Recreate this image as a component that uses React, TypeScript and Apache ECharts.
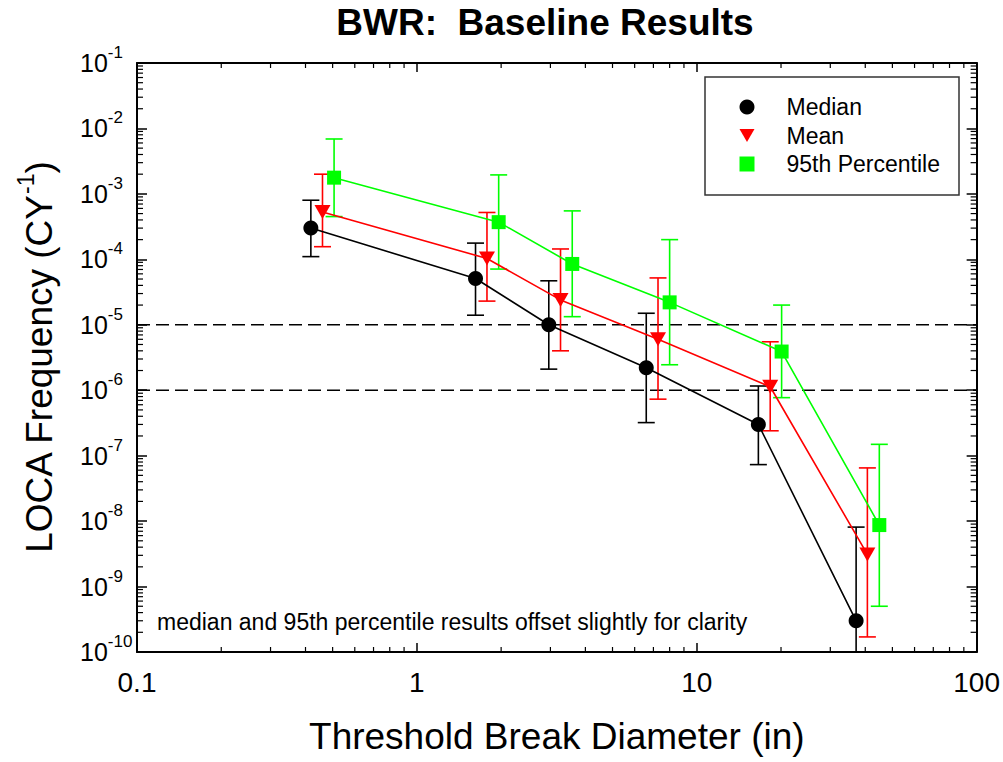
import React, { useEffect, useRef } from "react";
import * as echarts from "echarts";

const FONT = "'Liberation Sans', Arial, Helvetica, sans-serif";

// ---- data ----
const medianX = [0.418, 1.62, 2.96, 6.6, 16.6, 37.1];
const medianY = [3.0e-4, 5.1e-5, 1.0e-5, 2.2e-6, 3.0e-7, 3.0e-10];
const medianLo = [1.1e-4, 1.4e-5, 2.1e-6, 3.2e-7, 7.3e-8, 1e-11];
const medianHi = [8.0e-4, 1.77e-4, 4.7e-5, 1.5e-5, 1.16e-6, 8.1e-9];

const meanX = [0.46, 1.78, 3.26, 7.27, 18.3, 40.7];
const meanY = [5.3e-4, 1.03e-4, 2.4e-5, 6.0e-6, 1.13e-6, 3.1e-9];
const meanLo = [1.56e-4, 2.3e-5, 4.0e-6, 7.3e-7, 2.4e-7, 1.7e-10];
const meanHi = [2.0e-3, 5.2e-4, 1.44e-4, 5.2e-5, 5.5e-6, 6.5e-8];

const p95X = [0.506, 1.96, 3.59, 8.0, 20.1, 44.9];
const p95Y = [1.77e-3, 3.7e-4, 8.5e-5, 2.2e-5, 3.9e-6, 8.7e-9];
const p95Lo = [4.5e-4, 7.1e-5, 1.33e-5, 2.45e-6, 7.7e-7, 5.0e-10];
const p95Hi = [6.9e-3, 1.95e-3, 5.5e-4, 2.0e-4, 2.0e-5, 1.49e-7];

const refLines = [1e-5, 1e-6];

const xTickValues = [0.1, 1, 10, 100];
const xTickLabels = ["0.1", "1", "10", "100"];
const yExponents = [-1, -2, -3, -4, -5, -6, -7, -8, -9, -10];
const xDecades = [0.1, 1, 10];
const yDecades = [1e-10, 1e-9, 1e-8, 1e-7, 1e-6, 1e-5, 1e-4, 1e-3, 1e-2];
const minorMultipliers = [2, 3, 4, 5, 6, 7, 8, 9];

const seriesNames = ["Median", "Mean", "95th Percentile"];
const seriesColors = ["#000000", "#ff0000", "#00ff00"];
const TRI_DOWN = "path://M0,0L16,0L8,14Z";

const X_MIN = 0.1, X_MAX = 100, Y_MIN = 1e-10, Y_MAX = 1e-1;

function zip3(x: number[], a: number[], b: number[]) {
  return x.map((v, i) => [v, a[i], b[i]]);
}
function zip2(x: number[], a: number[]) {
  return x.map((v, i) => [v, a[i]]);
}

function errorSeries(name: string, color: string, data: number[][]) {
  return {
    type: "custom",
    name: name + " err",
    coordinateSystem: "cartesian2d",
    clip: true,
    z: 2,
    silent: true,
    encode: { x: 0, y: [1, 2] },
    data,
    renderItem: (params: any, api: any) => {
      const x = api.value(0);
      const lo = api.value(1);
      const hi = api.value(2);
      const pLo = api.coord([x, lo]);
      const pHi = api.coord([x, hi]);
      const hw = 8.5;
      const style = { stroke: color, lineWidth: 1.6 };
      return {
        type: "group",
        children: [
          { type: "line", shape: { x1: pLo[0], y1: pLo[1], x2: pHi[0], y2: pHi[1] }, style },
          { type: "line", shape: { x1: pHi[0] - hw, y1: pHi[1], x2: pHi[0] + hw, y2: pHi[1] }, style },
          { type: "line", shape: { x1: pLo[0] - hw, y1: pLo[1], x2: pLo[0] + hw, y2: pLo[1] }, style },
        ],
      };
    },
  };
}

export default function App() {
  const ref = useRef<HTMLDivElement>(null);

  useEffect(() => {
    if (!ref.current) return;
    const chart = echarts.init(ref.current, undefined, { renderer: "svg" });

    const xMinor: number[][] = [];
    xDecades.forEach((d) => minorMultipliers.forEach((m) => xMinor.push([d * m, Y_MIN])));
    const yMinor: number[][] = [];
    yDecades.forEach((d) => minorMultipliers.forEach((m) => yMinor.push([X_MIN, d * m])));

    const axisLineStyle = { color: "#000", width: 2 };

    const refLineSeries = refLines.map((y, i) => ({
      type: "line",
      name: "ref" + i,
      data: [
        [X_MIN, y],
        [X_MAX, y],
      ],
      symbol: "none",
      silent: true,
      z: 1,
      lineStyle: { color: "#000", width: 1.4, type: [13, 6] },
    }));

    const option: any = {
      animation: false,
      backgroundColor: "#ffffff",
      title: {
        text: "BWR:  Baseline Results",
        left: 545,
        textAlign: "center",
        top: 4,
        padding: 0,
        textStyle: { fontFamily: FONT, fontSize: 37, fontWeight: "bold", color: "#000" },
      },
      grid: { left: 137, top: 63, width: 840, height: 589, containLabel: false },
      legend: {
        orient: "vertical",
        left: 739.5,
        top: 95.5,
        padding: 0,
        itemWidth: 15,
        itemHeight: 15,
        itemGap: 5.5,
        selectedMode: false,
        data: [
          { name: seriesNames[0], icon: "circle" },
          { name: seriesNames[1], icon: TRI_DOWN },
          { name: seriesNames[2], icon: "rect" },
        ],
        formatter: (n: string) => `{t|${n}}`,
        textStyle: {
          fontFamily: FONT,
          fontSize: 23,
          color: "#000",
          rich: { t: { fontFamily: FONT, fontSize: 23, color: "#000", padding: [0, 0, 0, 27], lineHeight: 23 } },
        },
      },
      graphic: [
        {
          type: "rect",
          shape: { x: 705, y: 77, width: 254, height: 118 },
          style: { fill: "none", stroke: "#333", lineWidth: 1.5 },
          z: 10,
        },
        {
          type: "text",
          x: 157,
          y: 622,
          style: {
            text: "median and 95th percentile results offset slightly for clarity",
            font: `23px ${FONT}`,
            fill: "#000",
            verticalAlign: "middle",
            align: "left",
          },
          z: 10,
        },
      ],
      xAxis: [
        {
          type: "log",
          logBase: 10,
          min: X_MIN,
          max: X_MAX,
          splitNumber: 3,
          position: "bottom",
          name: "Threshold Break Diameter (in)",
          nameLocation: "middle",
          nameGap: 66,
          nameTextStyle: { fontFamily: FONT, fontSize: 37, color: "#000" },
          axisLine: { show: true, lineStyle: axisLineStyle },
          axisTick: { show: true, inside: true, length: 9, lineStyle: { color: "#000", width: 1.5 } },
          axisLabel: {
            fontFamily: FONT,
            fontSize: 28,
            color: "#000",
            margin: 16,
            formatter: (v: number) => {
              const i = xTickValues.findIndex((t) => Math.abs(Math.log10(t) - Math.log10(v)) < 1e-6);
              return i >= 0 ? xTickLabels[i] : "";
            },
          },
          splitLine: { show: false },
        },
        {
          type: "log",
          logBase: 10,
          min: X_MIN,
          max: X_MAX,
          splitNumber: 3,
          position: "top",
          axisLine: { show: true, lineStyle: axisLineStyle },
          axisTick: { show: true, inside: true, length: 9, lineStyle: { color: "#000", width: 1.5 } },
          axisLabel: { show: false },
          splitLine: { show: false },
        },
      ],
      yAxis: [
        {
          type: "log",
          logBase: 10,
          min: Y_MIN,
          max: Y_MAX,
          splitNumber: 9,
          position: "left",
          name: "{a|LOCA Frequency (CY}{s|-1}{a|)}",
          nameLocation: "middle",
          nameGap: 73,
          nameRotate: 90,
          nameTextStyle: {
            fontFamily: FONT,
            fontSize: 37,
            color: "#000",
            rich: {
              a: { fontFamily: FONT, fontSize: 37, color: "#000", lineHeight: 50, verticalAlign: "middle" },
              s: { fontFamily: FONT, fontSize: 23, color: "#000", lineHeight: 23, verticalAlign: "top" },
            },
          },
          axisLine: { show: true, lineStyle: axisLineStyle },
          axisTick: { show: true, inside: true, length: 10, lineStyle: { color: "#000", width: 1.5 } },
          axisLabel: {
            align: "left",
            margin: 57,
            formatter: (v: number) => {
              const e = Math.round(Math.log10(v));
              const idx = yExponents.indexOf(e);
              return idx >= 0 ? `{b|10}{s|${yExponents[idx]}}` : "";
            },
            rich: {
              b: { fontFamily: FONT, fontSize: 25, color: "#000", lineHeight: 38, verticalAlign: "middle" },
              s: { fontFamily: FONT, fontSize: 17, color: "#000", lineHeight: 17, verticalAlign: "top" },
            },
          },
          splitLine: { show: false },
        },
        {
          type: "log",
          logBase: 10,
          min: Y_MIN,
          max: Y_MAX,
          splitNumber: 9,
          position: "right",
          axisLine: { show: true, lineStyle: axisLineStyle },
          axisTick: { show: true, inside: true, length: 10, lineStyle: { color: "#000", width: 1.5 } },
          axisLabel: { show: false },
          splitLine: { show: false },
        },
      ],
      series: [
        {
          type: "custom",
          name: "xminor",
          coordinateSystem: "cartesian2d",
          silent: true,
          z: 1,
          data: xMinor,
          renderItem: (params: any, api: any) => {
            const v = api.value(0);
            const b = api.coord([v, Y_MIN]);
            const t = api.coord([v, Y_MAX]);
            const style = { stroke: "#000", lineWidth: 1.2 };
            return {
              type: "group",
              children: [
                { type: "line", shape: { x1: b[0], y1: b[1], x2: b[0], y2: b[1] - 5 }, style },
                { type: "line", shape: { x1: t[0], y1: t[1], x2: t[0], y2: t[1] + 5 }, style },
              ],
            };
          },
        },
        {
          type: "custom",
          name: "yminor",
          coordinateSystem: "cartesian2d",
          silent: true,
          z: 1,
          data: yMinor,
          renderItem: (params: any, api: any) => {
            const v = api.value(1);
            const l = api.coord([X_MIN, v]);
            const r = api.coord([X_MAX, v]);
            const style = { stroke: "#000", lineWidth: 1.2 };
            return {
              type: "group",
              children: [
                { type: "line", shape: { x1: l[0], y1: l[1], x2: l[0] + 6, y2: l[1] }, style },
                { type: "line", shape: { x1: r[0], y1: r[1], x2: r[0] - 6, y2: r[1] }, style },
              ],
            };
          },
        },
        ...refLineSeries,
        errorSeries(seriesNames[0], seriesColors[0], zip3(medianX, medianLo, medianHi)),
        errorSeries(seriesNames[1], seriesColors[1], zip3(meanX, meanLo, meanHi)),
        errorSeries(seriesNames[2], seriesColors[2], zip3(p95X, p95Lo, p95Hi)),
        {
          type: "line",
          name: seriesNames[0],
          data: zip2(medianX, medianY),
          symbol: "circle",
          symbolSize: 15,
          z: 4,
          color: seriesColors[0],
          itemStyle: { color: seriesColors[0] },
          lineStyle: { color: seriesColors[0], width: 1.6 },
        },
        {
          type: "line",
          name: seriesNames[1],
          data: zip2(meanX, meanY),
          symbol: TRI_DOWN,
          symbolSize: [16, 14],
          z: 4,
          color: seriesColors[1],
          itemStyle: { color: seriesColors[1] },
          lineStyle: { color: seriesColors[1], width: 1.6 },
        },
        {
          type: "line",
          name: seriesNames[2],
          data: zip2(p95X, p95Y),
          symbol: "rect",
          symbolSize: 14,
          z: 4,
          color: seriesColors[2],
          itemStyle: { color: seriesColors[2] },
          lineStyle: { color: seriesColors[2], width: 1.6 },
        },
      ],
    };

    chart.setOption(option);
    return () => chart.dispose();
  }, []);

  return (
    <div
      ref={ref}
      style={{ position: "fixed", left: 0, top: 0, width: 1003, height: 762, background: "#fff" }}
    />
  );
}
